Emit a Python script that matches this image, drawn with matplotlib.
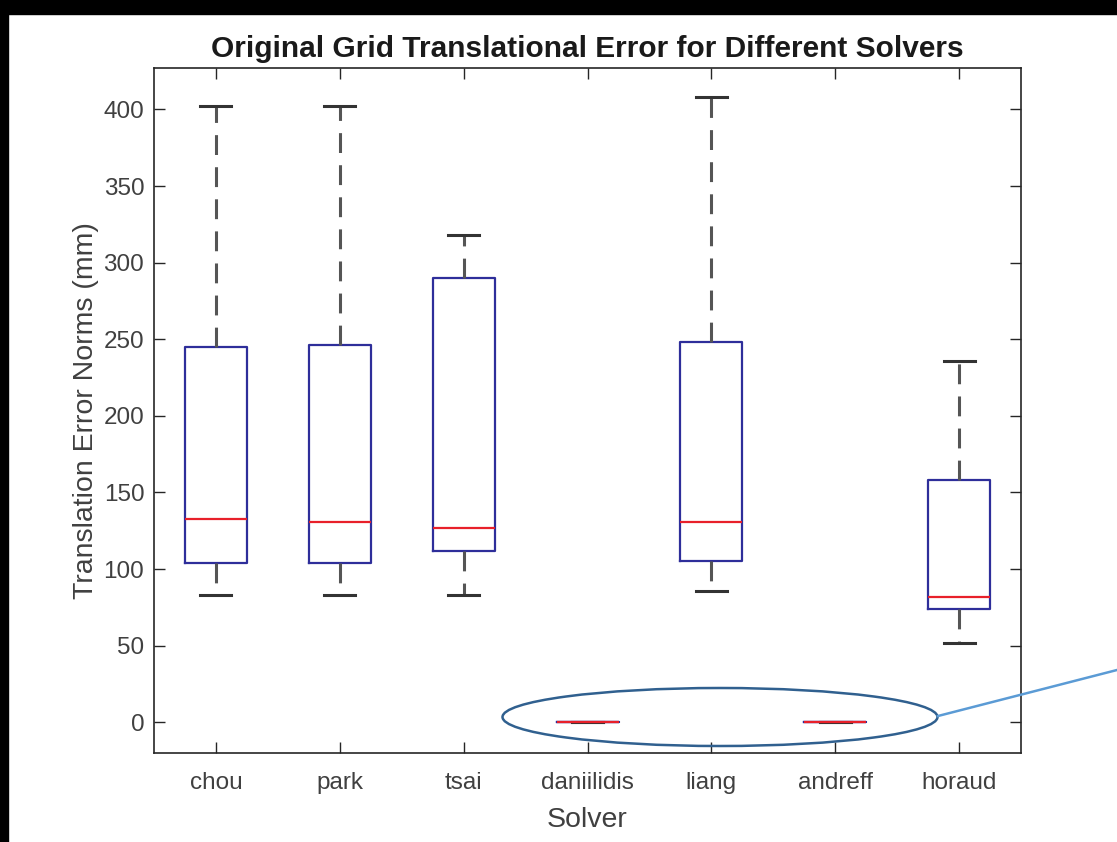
import matplotlib
matplotlib.use("Agg")
import matplotlib.pyplot as plt
from matplotlib.patches import Ellipse, Rectangle
from matplotlib.lines import Line2D

plt.rcParams['font.family'] = ['Liberation Sans', 'DejaVu Sans']

# per-solver box statistics (mm)
solvers = ['chou', 'park', 'tsai', 'daniilidis', 'liang', 'andreff', 'horaud']
whislo = [83, 83, 83, 0, 86, 0, 52]
q1 = [104, 104, 112, 0, 105, 0, 74]
med = [133, 131, 127, 0, 131, 0, 82]
q3 = [245, 246, 290, 0, 248, 0, 158]
whishi = [402, 402, 318, 0, 408, 0, 236]

stats = []
for i in range(len(solvers)):
    stats.append(dict(label=solvers[i], whislo=whislo[i], q1=q1[i], med=med[i],
                      q3=q3[i], whishi=whishi[i], fliers=[]))

fig = plt.figure(figsize=(11.17, 8.42), dpi=100)
ax = fig.add_axes([0.1379, 0.1057, 0.7762, 0.8135])

ax.bxp(stats, widths=0.5, capwidths=0.25, showfliers=False,
       boxprops=dict(color='#2e2e9a', linewidth=1.6),
       medianprops=dict(color='#e8202a', linewidth=1.6),
       whiskerprops=dict(color='#555555', linewidth=2.2, linestyle=(0, (6.5, 4))),
       capprops=dict(color='#333333', linewidth=2.2))

ax.set_xlim(0.5, 7.5)
ax.set_ylim(-20, 427)
ax.set_yticks([0, 50, 100, 150, 200, 250, 300, 350, 400])
ax.tick_params(direction='in', length=8, width=1, top=True, right=True,
               labelsize=17.5, colors='#262626')
ax.tick_params(axis='x', pad=14)
ax.tick_params(axis='y', pad=7)
for t in ax.get_xticklabels() + ax.get_yticklabels():
    t.set_color('#404040')
for s in ax.spines.values():
    s.set_color('#262626')
    s.set_linewidth(1.2)

ax.set_title('Original Grid Translational Error for Different Solvers',
             fontsize=21.5, fontweight='bold', color='#1a1a1a', pad=8)
ax.set_xlabel('Solver', fontsize=20.5, color='#404040', labelpad=9)
ax.set_ylabel('Translation Error Norms (mm)', fontsize=20.5, color='#404040', labelpad=3)

# callout around the zero-error solvers
ell = Ellipse((720 / 1117, 1 - 717 / 842), 435 / 1117, 58 / 842,
              transform=fig.transFigure, fill=False, edgecolor='#30608f', linewidth=1.8)
fig.add_artist(ell)
fig.add_artist(Line2D([938 / 1117, 1.0], [1 - 716 / 842, 1 - 670 / 842],
                      transform=fig.transFigure, color='#5b9bd5', linewidth=1.8))

# dark frame strips along top and left edges
fig.add_artist(Rectangle((0, 1 - 14 / 842), 1, 14 / 842, transform=fig.transFigure,
                         color='black', zorder=10))
fig.add_artist(Rectangle((0, 0), 8 / 1117, 1, transform=fig.transFigure,
                         color='black', zorder=10))

fig.savefig('out.png', dpi=100)
